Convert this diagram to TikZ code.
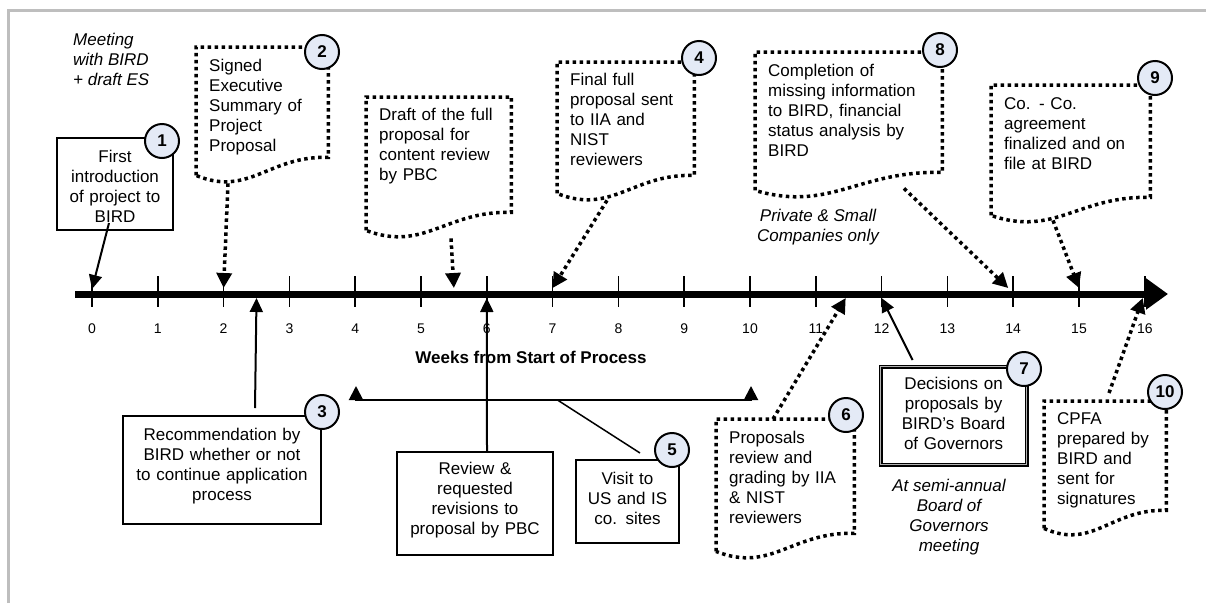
\documentclass[tikz,border=0pt]{standalone}
\usepackage{fontspec}
\setmainfont{Liberation Sans}
\usetikzlibrary{arrows.meta,calc}
\definecolor{numfill}{RGB}{228,234,246}
\definecolor{framegray}{RGB}{190,190,190}
% dotted frame with a wavy bottom around a named node
\newcommand{\wavy}[1]{%
  \draw[dotline] ($(#1.south west)+(0,18)$) -- (#1.north west) -- (#1.north east) -- (#1.south east)
    .. controls ($(#1.south west)!0.55!(#1.south east)+(0,-2)$) and ($(#1.south west)!0.4!(#1.south east)+(0,40)$) .. ($(#1.south west)+(0,18)$);}

\begin{document}
\begin{tikzpicture}[x=1pt,y=-1pt,
    txt/.style={font=\fontsize{17}{20}\selectfont},
    sbox/.style={txt,draw,line width=2pt,inner xsep=6pt,inner ysep=0pt,align=center,anchor=north west},
    dbox/.style={txt,inner xsep=13pt,inner ysep=0pt,align=left,anchor=north west},
    dotline/.style={line width=3.5pt,dash pattern=on 3.5pt off 3.5pt},
    num/.style={circle,draw,line width=2pt,fill=numfill,minimum size=34pt,inner sep=0pt,font=\fontsize{17}{20}\selectfont\bfseries},
    note/.style={font=\fontsize{17}{20}\selectfont\itshape,align=center,inner sep=0pt},
    wk/.style={font=\fontsize{14}{16}\selectfont},
    link/.style={line width=2pt,-{Triangle[length=14pt,width=13pt]}},
    dlink/.style={dotline,-{Triangle[length=15pt,width=15pt]}}]
\useasboundingbox (0,0) rectangle (1206,603);
\draw[framegray,line width=3pt] (8,603) -- (8,10) -- (1206,10);

% time axis
\coordinate (tstart) at (75,294);
\coordinate (tend) at (1168,294);
\foreach \w in {0,...,16} {
  \coordinate (w\w) at (92+65.8*\w,294);
  \draw[line width=1.5pt] (92+65.8*\w,276) -- (92+65.8*\w,307);
  \node[wk] (l\w) at (92+65.8*\w,329) {\w};
}
\draw[line width=7pt,-{Triangle[length=22pt,width=30pt]}] (tstart) -- (tend);
\node[txt,font=\fontsize{17}{20}\selectfont\bfseries] (weeks) at (531,357) {Weeks from Start of Process};

% notes
\node[note,align=left,anchor=west] (meet) at (73,59) {Meeting\\with BIRD\\+ draft ES};
\node[note] (priv) at (818,227) {Private \& Small\\Companies only};
\node[note] (semi) at (949,517) {At semi-annual\\Board of\\Governors\\meeting};

% boxes above the axis
\node[sbox,text width=104pt,text height=24pt,text depth=68pt] (b1) at (56,137) {First\\introduction\\of project to\\BIRD};
\node[dbox,text width=106pt,text height=24pt,text depth=86pt] (b2) at (196,47) {Signed\\Executive\\Summary of\\Project\\Proposal};
\wavy{b2}
\node[dbox,text width=119pt,text height=23pt,text depth=92pt] (bd) at (366,97) {Draft of the full\\proposal for\\content review\\by PBC};
\wavy{bd}
\node[dbox,text width=111pt,text height=23pt,text depth=90pt] (b4) at (557,62) {Final full\\proposal sent\\to IIA and\\NIST\\reviewers};
\wavy{b4}
\node[dbox,text width=161pt,text height=24pt,text depth=96pt] (b8) at (755,52) {Completion of\\missing information\\to BIRD, financial\\status analysis by\\BIRD};
\wavy{b8}
\node[dbox,text width=133pt,text height=24pt,text depth=88pt] (b9) at (991,85) {Co. - Co.\\agreement\\finalized and on\\file at BIRD};
\wavy{b9}

% boxes below the axis
\node[sbox,text width=186pt,text height=24pt,text depth=84pt] (b3) at (122,415) {Recommendation by\\BIRD whether or not\\to continue application\\process};
\node[sbox,text width=144pt,text height=22pt,text depth=81pt] (brev) at (396,451) {Review \&\\requested\\revisions to\\proposal by PBC};
\node[sbox,text width=91pt,text height=24pt,text depth=59pt] (b5) at (575,459) {Visit to\\US and IS\\co. sites};
\node[dbox,text width=112pt,text height=24pt,text depth=90pt] (b6) at (716,419) {Proposals\\review and\\grading by IIA\\\& NIST\\reviewers};
\wavy{b6}
\node[sbox,line width=1.2pt,double=gray!60,double distance=1.5pt,text width=134pt,text height=23pt,text depth=75pt] (b7) at (880,366) {Decisions on\\proposals by\\BIRD’s Board\\of Governors};
\node[dbox,text width=96pt,text height=23pt,text depth=86pt] (b10) at (1044,401) {CPFA\\prepared by\\BIRD and\\sent for\\signatures};
\wavy{b10}

% visit span
\coordinate (v4) at (356,400);
\coordinate (v10) at (751,400);
\draw[line width=2pt] (v4) -- (v10);
\draw[line width=2pt,-{Triangle[length=14pt,width=14pt]}] (v4) -- ++(0,-14);
\draw[line width=2pt,-{Triangle[length=14pt,width=14pt]}] (v10) -- ++(0,-14);
\draw[line width=1.5pt] ($(v4)!0.51!(v10)$) -- ($(b5.north east)+(-40,-6)$);

% connectors to the axis
\draw[link] ($(b1.south)+(-6,-8)$) -- ($(w0)+(0,-5)$);
\draw[dlink] ($(b2.south west)+(32,26)$) -- ($(w2)+(0,-6)$);
\draw[dlink] ($(bd.south west)+(85,26)$) -- ($(w5)!0.5!(w6)+(0,-6)$);
\draw[dlink] ($(b4.south west)+(50,25)$) -- ($(w7)+(0,-6)$);
\draw[dlink] ($(b8.south west)+(149,16)$) -- ($(w14)+(-5,-6)$);
\draw[dlink] ($(b9.south west)+(62,23)$) -- ($(w15)+(0,-6)$);
\draw[link] ($(b3.north)+(33,-7)$) -- ($(w2)!0.5!(w3)+(0,4)$);
\draw[link] ($(brev.north)+(12,0)$) -- ($(w6)+(0,4)$);
\draw[dlink] ($(b6.north west)+(57,0)$) -- ($(w11)!0.5!(w12)+(-3,4)$);
\draw[link] ($(b7.north)+(-41,-6)$) -- ($(w12)+(0,4)$);
\draw[dlink] ($(b10.north west)+(65,-8)$) -- ($(w16)+(-2,4)$);

% step numbers
\node[num] (n1) at (162,141) {1};
\node[num] (n2) at (322,52) {2};
\node[num] (n3) at (322,412) {3};
\node[num] (n4) at (699,58) {4};
\node[num] (n5) at (672,450) {5};
\node[num] (n6) at (846,415) {6};
\node[num] (n7) at (1024,369) {7};
\node[num] (n8) at (940,50) {8};
\node[num] (n9) at (1155,78) {9};
\node[num] (n10) at (1165,392) {10};
\end{tikzpicture}
\end{document}
